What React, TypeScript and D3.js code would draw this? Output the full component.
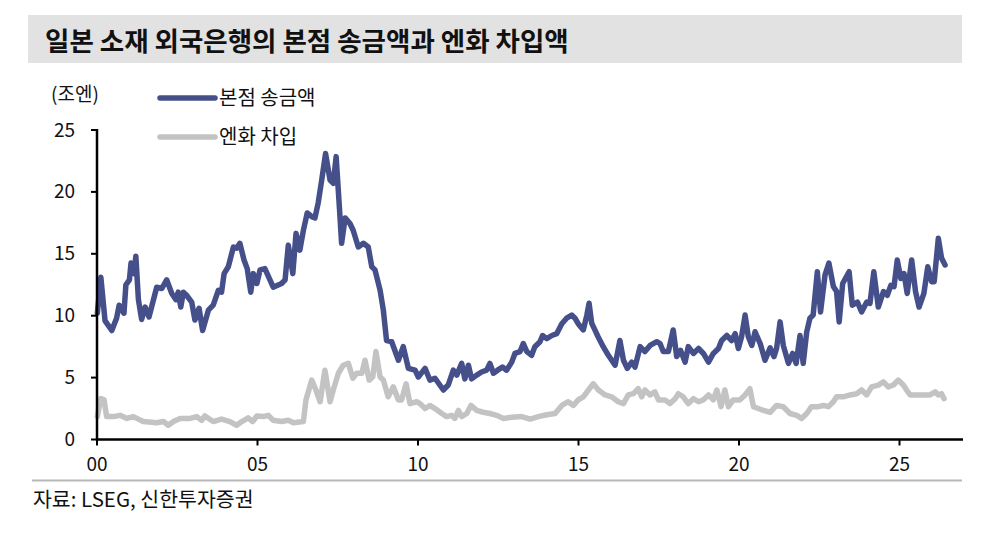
import React from "react";
import * as d3 from "d3";

// time is years since Jan 2000, value in 조엔
const remittance: [number, number][] = [
[0.01,10.2],[0.12,13.1],[0.25,9.6],[0.46,8.8],[0.61,9.8],[0.69,10.85],[0.84,10.2],[0.90,12.5],[1.01,12.9],[1.06,14.25],[1.15,13.4],[1.21,14.8],[1.29,11.3],[1.39,9.7],[1.50,10.7],[1.62,9.9],[1.86,12.3],[2.02,12.2],[2.17,12.9],[2.33,11.8],[2.46,11.3],[2.53,11.9],[2.61,10.7],[2.69,11.9],[2.79,11.65],[2.95,11.1],[3.05,9.65],[3.18,10.6],[3.29,8.8],[3.47,10.45],[3.62,10.85],[3.78,12.05],[3.88,11.9],[3.96,13.4],[4.09,13.95],[4.25,15.55],[4.35,15.45],[4.45,15.85],[4.58,14.5],[4.68,13.8],[4.79,11.9],[4.87,13.4],[4.98,12.6],[5.08,13.7],[5.23,13.8],[5.49,12.3],[5.75,12.6],[5.86,12.9],[5.96,15.7],[6.10,13.4],[6.20,16.65],[6.32,15.3],[6.43,16.9],[6.55,18.3],[6.69,18.0],[6.79,17.9],[6.89,19.1],[7.00,20.95],[7.12,23.1],[7.26,20.95],[7.36,20.7],[7.45,22.85],[7.55,18.8],[7.62,15.85],[7.73,17.9],[7.88,17.45],[7.98,16.9],[8.14,15.55],[8.30,15.85],[8.45,15.55],[8.56,13.95],[8.66,13.7],[8.82,12.05],[8.92,10.45],[9.02,8.0],[9.18,7.9],[9.39,6.4],[9.54,7.5],[9.70,5.75],[9.91,5.6],[10.01,5.05],[10.22,5.75],[10.37,4.8],[10.53,4.95],[10.79,4.0],[10.94,4.4],[11.10,5.6],[11.21,5.2],[11.36,6.15],[11.46,4.9],[11.57,6.0],[11.67,4.9],[11.83,5.2],[11.98,5.45],[12.14,5.6],[12.24,6.15],[12.35,5.35],[12.48,5.6],[12.63,5.85],[12.76,5.6],[12.92,6.25],[13.02,6.95],[13.18,7.1],[13.28,7.75],[13.39,7.1],[13.54,6.8],[13.64,7.5],[13.80,7.9],[13.88,8.4],[14.01,8.15],[14.17,8.4],[14.32,8.55],[14.48,9.35],[14.63,9.8],[14.79,10.05],[14.89,9.8],[14.99,9.35],[15.15,8.85],[15.26,10.05],[15.33,11.0],[15.41,9.4],[15.51,8.85],[15.61,8.3],[15.77,7.5],[15.93,6.8],[16.14,6.0],[16.29,8.0],[16.40,6.4],[16.52,5.75],[16.66,6.25],[16.76,5.85],[16.92,7.5],[17.07,7.1],[17.23,7.6],[17.44,7.9],[17.54,7.75],[17.64,7.1],[17.80,7.1],[17.95,8.85],[18.06,6.7],[18.18,7.2],[18.32,6.25],[18.42,7.5],[18.58,6.95],[18.74,7.35],[18.89,6.95],[19.05,6.25],[19.20,6.95],[19.36,7.35],[19.46,8.0],[19.62,8.4],[19.77,8.0],[19.88,8.55],[19.98,7.35],[20.08,8.3],[20.19,10.05],[20.29,8.3],[20.40,7.6],[20.50,8.7],[20.66,7.75],[20.81,6.4],[20.97,7.4],[21.09,6.7],[21.17,7.35],[21.28,9.5],[21.38,7.6],[21.54,6.15],[21.67,6.95],[21.78,6.15],[21.90,8.4],[22.00,6.15],[22.11,8.7],[22.21,9.8],[22.31,10.05],[22.44,13.55],[22.54,10.3],[22.68,13.3],[22.80,14.25],[22.94,12.35],[23.04,11.95],[23.12,9.5],[23.23,12.6],[23.43,13.55],[23.53,10.85],[23.69,11.1],[23.82,10.3],[23.98,11.1],[24.08,11.0],[24.20,13.55],[24.34,10.7],[24.50,11.95],[24.62,11.65],[24.73,12.45],[24.83,12.35],[24.93,14.5],[25.04,13.0],[25.14,13.4],[25.24,11.8],[25.38,14.5],[25.50,11.95],[25.61,10.7],[25.76,11.8],[25.88,13.95],[26.00,12.75],[26.08,12.75],[26.21,16.25],[26.31,14.65],[26.42,14.1]
];

const yenBorrowing: [number, number][] = [
[0.01,1.85],[0.12,3.3],[0.22,3.2],[0.30,1.85],[0.51,1.85],[0.72,1.95],[0.93,1.7],[1.13,1.85],[1.44,1.45],[1.86,1.35],[2.07,1.45],[2.22,1.15],[2.38,1.45],[2.59,1.7],[2.90,1.7],[3.11,1.85],[3.26,1.55],[3.36,1.9],[3.62,1.45],[3.88,1.65],[4.14,1.45],[4.35,1.15],[4.51,1.45],[4.71,1.75],[4.85,1.45],[4.98,1.9],[5.18,1.85],[5.34,1.95],[5.49,1.55],[5.75,1.45],[5.96,1.55],[6.12,1.35],[6.43,1.45],[6.51,3.2],[6.69,4.8],[6.82,4.0],[6.95,3.05],[7.10,5.6],[7.17,4.5],[7.26,3.05],[7.36,4.0],[7.52,5.35],[7.67,6.0],[7.83,6.15],[7.97,4.95],[8.09,5.35],[8.25,5.35],[8.35,6.4],[8.48,4.8],[8.59,5.05],[8.69,7.1],[8.82,5.05],[8.92,4.8],[9.07,3.45],[9.23,4.25],[9.39,3.2],[9.49,3.2],[9.63,4.5],[9.75,2.9],[9.96,3.05],[10.06,2.9],[10.22,2.5],[10.37,2.75],[10.53,2.5],[10.74,2.1],[10.89,1.85],[11.05,1.95],[11.15,1.7],[11.26,2.35],[11.36,1.85],[11.52,2.1],[11.65,2.75],[11.83,2.35],[12.03,2.2],[12.24,2.1],[12.45,1.95],[12.66,1.7],[12.92,1.8],[13.23,1.85],[13.49,1.65],[13.75,1.85],[14.01,2.0],[14.27,2.1],[14.48,2.75],[14.68,3.05],[14.84,2.75],[14.99,3.2],[15.15,3.45],[15.31,4.0],[15.46,4.5],[15.62,4.0],[15.83,3.6],[16.03,3.45],[16.24,3.05],[16.40,2.9],[16.55,3.6],[16.71,3.7],[16.86,4.1],[16.97,3.45],[17.07,4.0],[17.23,3.6],[17.38,3.85],[17.49,3.2],[17.69,3.2],[17.85,2.9],[18.01,3.3],[18.11,3.7],[18.26,3.45],[18.42,2.9],[18.58,3.3],[18.74,3.05],[18.89,3.2],[19.05,3.6],[19.20,3.2],[19.31,4.0],[19.44,2.65],[19.56,4.0],[19.67,2.65],[19.82,3.2],[20.03,3.2],[20.19,3.6],[20.34,4.1],[20.45,2.65],[20.60,2.5],[20.76,2.35],[20.97,2.2],[21.17,2.75],[21.38,2.65],[21.59,2.1],[21.80,1.95],[21.95,1.7],[22.11,2.1],[22.26,2.65],[22.47,2.65],[22.63,2.75],[22.78,2.65],[22.94,3.05],[23.04,3.45],[23.25,3.45],[23.46,3.6],[23.67,3.7],[23.82,4.0],[23.98,3.6],[24.13,4.25],[24.34,4.4],[24.50,4.65],[24.65,4.25],[24.81,4.4],[24.96,4.8],[25.12,4.4],[25.22,4.0],[25.33,3.6],[25.54,3.6],[25.74,3.6],[25.95,3.6],[26.11,3.85],[26.21,3.6],[26.31,3.7],[26.39,3.3]
];

const xTickValues = [0, 5, 10, 15, 20, 25];
const xTickLabels = ["00", "05", "10", "15", "20", "25"];
const yTickValues = [0, 5, 10, 15, 20, 25];

const titleText = "일본 소재 외국은행의 본점 송금액과 엔화 차입액";
const unitText = "(조엔)";
const seriesNames = ["본점 송금액", "엔화 차입"];
const sourceText = "자료: LSEG, 신한투자증권";

const NAVY = "#45508a";
const GREY = "#c3c3c3";
const FONT = "'Noto Sans CJK KR', 'Noto Sans', sans-serif";

export default function App() {
  const W = 1003, H = 537;
  const x = d3.scaleLinear().domain([0, 27]).range([97, 963.7]);
  const y = d3.scaleLinear().domain([0, 25]).range([439.5, 130]);
  const line = d3
    .line<[number, number]>()
    .x((d) => x(d[0]))
    .y((d) => y(d[1]))
    .curve(d3.curveLinear);

  return (
    <svg
      width={W}
      height={H}
      style={{ position: "absolute", left: 0, top: 0, background: "#fff" }}
      fontFamily={FONT}
    >
      <rect x={0} y={0} width={W} height={H} fill="#fff" />
      {/* title band */}
      <rect x={28} y={15} width={934} height={48} fill="#e2e2e2" />
      <text x={45} y={51} fontSize={26.5} fontWeight={700} fill="#111">
        {titleText}
      </text>

      {/* unit */}
      <text x={51} y={101} fontSize={19} fill="#111">
        {unitText}
      </text>

      {/* legend */}
      <line x1={160} x2={215} y1={98} y2={98} stroke={NAVY} strokeWidth={5.5} strokeLinecap="round" />
      <text x={219} y={105} fontSize={20} fill="#111">
        {seriesNames[0]}
      </text>
      <line x1={160} x2={215} y1={137} y2={137} stroke={GREY} strokeWidth={5.5} strokeLinecap="round" />
      <text x={219} y={144} fontSize={20} fill="#111">
        {seriesNames[1]}
      </text>

      {/* series */}
      <path d={line(yenBorrowing) || ""} fill="none" stroke={GREY} strokeWidth={5.5} strokeLinejoin="round" strokeLinecap="round" />
      <path d={line(remittance) || ""} fill="none" stroke={NAVY} strokeWidth={5.5} strokeLinejoin="round" strokeLinecap="round" />

      {/* y axis */}
      <line x1={x(0)} x2={x(0)} y1={y(25) - 1} y2={y(0) + 1} stroke="#000" strokeWidth={2.5} />
      {yTickValues.map((v) => (
        <g key={"y" + v}>
          <line x1={x(0) - 6} x2={x(0)} y1={y(v)} y2={y(v)} stroke="#000" strokeWidth={2} />
          <text x={75} y={y(v) + 6.5} fontSize={19} textAnchor="end" fill="#111">
            {v}
          </text>
        </g>
      ))}

      {/* x axis */}
      <line x1={x(0) - 1} x2={963} y1={y(0)} y2={y(0)} stroke="#000" strokeWidth={2.5} />
      {xTickValues.map((v, i) => (
        <g key={"x" + v}>
          <line x1={x(v)} x2={x(v)} y1={y(0)} y2={y(0) + 6} stroke="#000" strokeWidth={2} />
          <text x={x(v)} y={471} fontSize={19} textAnchor="middle" fill="#111">
            {xTickLabels[i]}
          </text>
        </g>
      ))}

      {/* source */}
      <line x1={32} x2={962} y1={480.5} y2={480.5} stroke="#b8b8b8" strokeWidth={2} />
      <text x={33} y={507} fontSize={20.5} fill="#111">
        {sourceText}
      </text>
    </svg>
  );
}
